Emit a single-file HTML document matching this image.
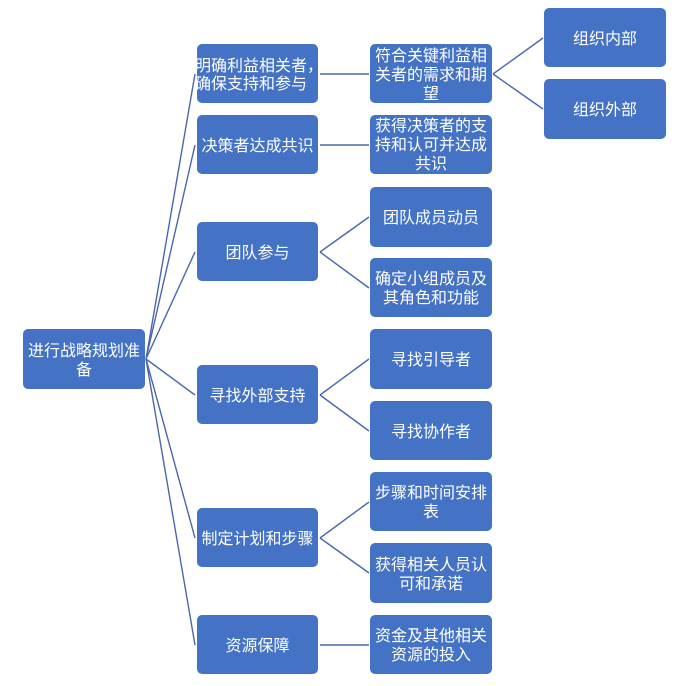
<!DOCTYPE html>
<html><head><meta charset="utf-8"><style>
html,body{margin:0;padding:0;background:#fff;}
svg{display:block;}
text{font-family:"Liberation Sans","Noto Sans CJK SC","WenQuanYi Zen Hei",sans-serif;font-size:16px;fill:#fff;}
.c{text-anchor:middle;}
rect{fill:#4472C4;}
line{stroke:#4A66AC;stroke-width:1.4;}
</style></head><body>
<svg width="687" height="686" viewBox="0 0 687 686" xmlns="http://www.w3.org/2000/svg">
<!-- root connectors -->
<line x1="146" y1="359" x2="195" y2="74"/>
<line x1="146" y1="359" x2="195" y2="145"/>
<line x1="146" y1="359" x2="195" y2="252"/>
<line x1="146" y1="359" x2="195" y2="395"/>
<line x1="146" y1="359" x2="195" y2="538"/>
<line x1="146" y1="359" x2="195" y2="645"/>
<!-- L1 to L2 -->
<line x1="320" y1="74" x2="369" y2="74"/>
<line x1="320" y1="145" x2="369" y2="145"/>
<line x1="320" y1="252" x2="369" y2="217"/>
<line x1="320" y1="252" x2="369" y2="288"/>
<line x1="320" y1="395" x2="369" y2="359"/>
<line x1="320" y1="395" x2="369" y2="431"/>
<line x1="320" y1="538" x2="369" y2="502"/>
<line x1="320" y1="538" x2="369" y2="573"/>
<line x1="320" y1="645" x2="369" y2="645"/>
<!-- L2 to L3 -->
<line x1="493" y1="74" x2="543" y2="38"/>
<line x1="493" y1="74" x2="543" y2="109"/>

<!-- root -->
<rect x="23" y="329" width="122" height="60" rx="5"/>
<text class="c" x="84" y="356">进行战略规划准</text>
<text class="c" x="84" y="375">备</text>

<!-- L1 -->
<rect x="197" y="44" width="121" height="59" rx="5"/>
<text x="195" y="71">明确利益相关者，</text>
<text x="195" y="89">确保支持和参与</text>
<rect x="197" y="115" width="121" height="59" rx="5"/>
<text class="c" x="257.5" y="151">决策者达成共识</text>
<rect x="197" y="222" width="121" height="59" rx="5"/>
<text class="c" x="257.5" y="258">团队参与</text>
<rect x="197" y="365" width="121" height="59" rx="5"/>
<text class="c" x="257.5" y="401">寻找外部支持</text>
<rect x="197" y="508" width="121" height="59" rx="5"/>
<text class="c" x="257.5" y="544">制定计划和步骤</text>
<rect x="197" y="615" width="121" height="59" rx="5"/>
<text class="c" x="257.5" y="651">资源保障</text>

<!-- L2 -->
<rect x="370" y="44" width="122" height="59" rx="5"/>
<text class="c" x="431" y="61">符合关键利益相</text>
<text class="c" x="431" y="80">关者的需求和期</text>
<text class="c" x="431" y="99">望</text>
<rect x="370" y="115" width="122" height="59" rx="5"/>
<text class="c" x="431" y="131">获得决策者的支</text>
<text class="c" x="431" y="150">持和认可并达成</text>
<text class="c" x="431" y="169">共识</text>
<rect x="370" y="187" width="122" height="60" rx="5"/>
<text class="c" x="431" y="223">团队成员动员</text>
<rect x="370" y="258" width="122" height="59" rx="5"/>
<text class="c" x="431" y="284">确定小组成员及</text>
<text class="c" x="431" y="303">其角色和功能</text>
<rect x="370" y="329" width="122" height="60" rx="5"/>
<text class="c" x="431" y="365">寻找引导者</text>
<rect x="370" y="401" width="122" height="59" rx="5"/>
<text class="c" x="431" y="437">寻找协作者</text>
<rect x="370" y="472" width="122" height="59" rx="5"/>
<text class="c" x="431" y="498">步骤和时间安排</text>
<text class="c" x="431" y="517">表</text>
<rect x="370" y="543" width="122" height="60" rx="5"/>
<text class="c" x="431" y="570">获得相关人员认</text>
<text class="c" x="431" y="589">可和承诺</text>
<rect x="370" y="615" width="122" height="59" rx="5"/>
<text class="c" x="431" y="641">资金及其他相关</text>
<text class="c" x="431" y="660">资源的投入</text>

<!-- L3 -->
<rect x="544" y="8" width="122" height="59" rx="5"/>
<text class="c" x="605" y="44">组织内部</text>
<rect x="544" y="79" width="122" height="60" rx="5"/>
<text class="c" x="605" y="115">组织外部</text>
</svg>
</body></html>
